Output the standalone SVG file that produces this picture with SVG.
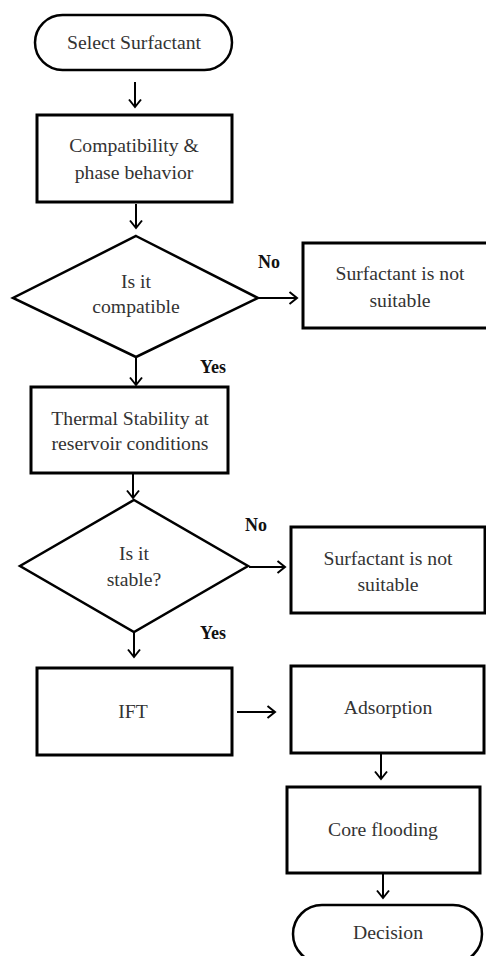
<svg xmlns="http://www.w3.org/2000/svg" width="486" height="956" viewBox="0 0 486 956">
<style>
.shape{fill:#fff;stroke:#000;stroke-width:3}
.term{fill:#fff;stroke:#000;stroke-width:2.5}
.dia{fill:#fff;stroke:#000;stroke-width:2.5}
.t{font-family:"Liberation Serif","Times New Roman",serif;font-size:19.7px;fill:#333;text-anchor:middle}
.lbl{font-family:"Liberation Serif","Times New Roman",serif;font-size:18px;font-weight:bold;fill:#111}
.c{stroke:#000;stroke-width:2;fill:none}
</style>
<defs>
<marker id="arr" viewBox="0 0 10 14" refX="8.5" refY="7" markerWidth="10" markerHeight="14" markerUnits="userSpaceOnUse" orient="auto" overflow="visible">
<path d="M1,1 L8.5,7 L1,13" fill="none" stroke="#000" stroke-width="2"/>
</marker>
</defs>
<rect width="486" height="956" fill="#fff"/>
<g id="connectors">
<line class="c" x1="135" y1="82" x2="135" y2="107" marker-end="url(#arr)"/>
<line class="c" x1="136" y1="204" x2="136" y2="228" marker-end="url(#arr)"/>
<line class="c" x1="259" y1="298" x2="297" y2="298" marker-end="url(#arr)"/>
<line class="c" x1="136" y1="358" x2="136" y2="385" marker-end="url(#arr)"/>
<line class="c" x1="133" y1="474" x2="133" y2="498" marker-end="url(#arr)"/>
<line class="c" x1="249" y1="567" x2="285" y2="567" marker-end="url(#arr)"/>
<line class="c" x1="134" y1="633" x2="134" y2="657" marker-end="url(#arr)"/>
<line class="c" x1="237" y1="712" x2="275" y2="712" marker-end="url(#arr)"/>
<line class="c" x1="381" y1="754" x2="381" y2="779" marker-end="url(#arr)"/>
<line class="c" x1="383" y1="874" x2="383" y2="898" marker-end="url(#arr)"/>
<text class="lbl" x="258" y="268">No</text>
<text class="lbl" x="200" y="373">Yes</text>
<text class="lbl" x="245" y="531">No</text>
<text class="lbl" x="200" y="639">Yes</text>
</g>
<g id="start">
<rect class="term" x="35" y="15" width="197" height="55" rx="27.5"/>
<text class="t" x="134" y="49">Select Surfactant</text>
</g>
<g id="compat">
<rect class="shape" x="37" y="115" width="195" height="87"/>
<text class="t" x="134" y="152">Compatibility &amp;</text>
<text class="t" x="134" y="179">phase behavior</text>
</g>
<g id="isCompatible">
<polygon class="dia" points="136,236 258,298 136,357 13,298"/>
<text class="t" x="136" y="288">Is it</text>
<text class="t" x="136" y="313">compatible</text>
</g>
<g id="notSuitable1">
<rect class="shape" x="303" y="243" width="200" height="85"/>
<text class="t" x="400" y="280">Surfactant is not</text>
<text class="t" x="400" y="307">suitable</text>
</g>
<g id="thermal">
<rect class="shape" x="31" y="387" width="197" height="86"/>
<text class="t" x="130" y="425">Thermal Stability at</text>
<text class="t" x="130" y="450">reservoir conditions</text>
</g>
<g id="isStable">
<polygon class="dia" points="134,500 248,566 134,632 20,566"/>
<text class="t" x="134" y="560">Is it</text>
<text class="t" x="134" y="586">stable?</text>
</g>
<g id="notSuitable2">
<rect class="shape" x="291" y="527" width="194" height="86"/>
<text class="t" x="388" y="565">Surfactant is not</text>
<text class="t" x="388" y="591">suitable</text>
</g>
<g id="ift">
<rect class="shape" x="37" y="668" width="195" height="87"/>
<text class="t" x="133" y="718">IFT</text>
</g>
<g id="adsorption">
<rect class="shape" x="291" y="666" width="193" height="87"/>
<text class="t" x="388" y="714">Adsorption</text>
</g>
<g id="coreflooding">
<rect class="shape" x="287" y="787" width="193" height="86"/>
<text class="t" x="383" y="836">Core flooding</text>
</g>
<g id="decision">
<rect class="term" x="293" y="905" width="189" height="58" rx="29"/>
<text class="t" x="388" y="939">Decision</text>
</g>
</svg>
